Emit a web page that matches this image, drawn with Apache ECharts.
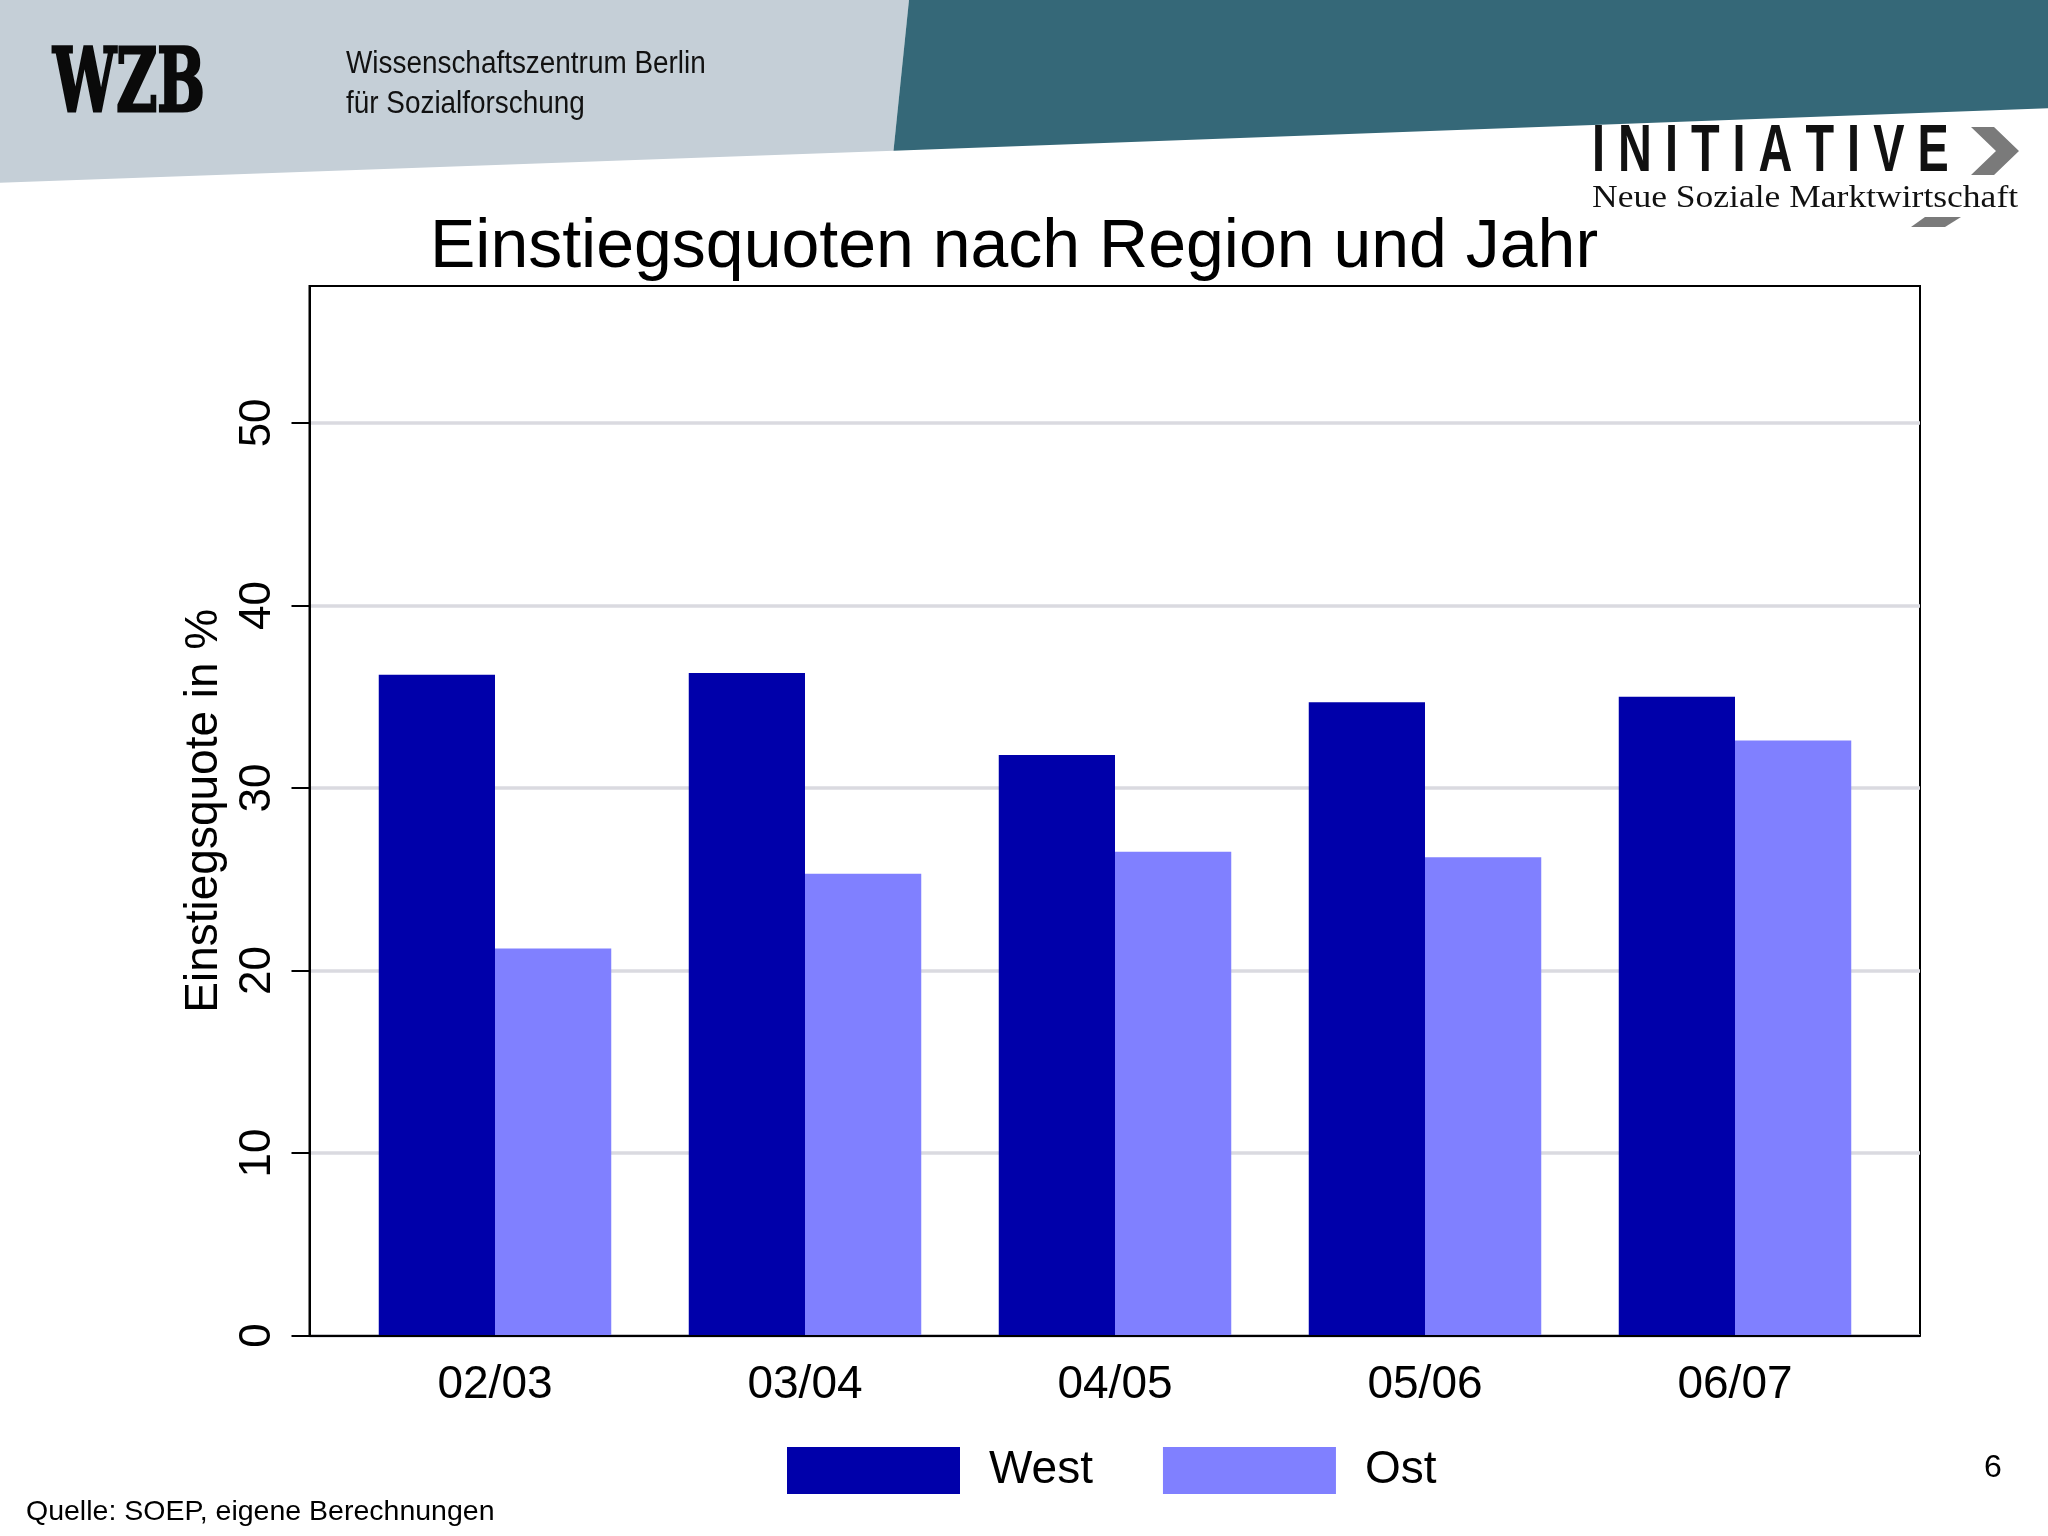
<!DOCTYPE html>
<html><head><meta charset="utf-8">
<script src="https://cdn.jsdelivr.net/npm/echarts@6/dist/echarts.min.js"></script>
<style>html,body{margin:0;padding:0;background:#fff}#c{width:2048px;height:1536px}</style>
</head><body><div id="c"></div>
<script>
// ---- data ----
const categories = ['02/03', '03/04', '04/05', '05/06', '06/07'];
const westValues = [36.2, 36.3, 31.8, 34.7, 35.0];
const ostValues  = [21.2, 25.3, 26.5, 26.2, 32.6];
const yTicks = [0, 10, 20, 30, 40, 50];
const seriesNames = ['West', 'Ost'];
const titleText = 'Einstiegsquoten nach Region und Jahr';
const yAxisTitle = 'Einstiegsquote in %';
const sourceText = 'Quelle: SOEP, eigene Berechnungen';
const pageNumber = '6';
const headerLine1 = 'Wissenschaftszentrum Berlin';
const headerLine2 = 'für Sozialforschung';
const logoLeft = 'WZB';
const logoRight = 'I N I T I A T I V E';
const logoRightSub = 'Neue Soziale Marktwirtschaft';

// ---- styling ----
const FONT = "'Liberation Sans', Arial, Helvetica, sans-serif";
const Y_MAX = 57.5;
const WEST_COLOR = '#0000aa';
const OST_COLOR = '#8080ff';

const chart = echarts.init(document.getElementById('c'), null, {renderer: 'canvas', width: 2048, height: 1536});

const option = {
  backgroundColor: '#ffffff',
  animation: false,
  textStyle: {fontFamily: FONT},
  title: {
    text: titleText, left: 1014, top: 214, textAlign: 'center', padding: 0,
    textStyle: {fontFamily: FONT, fontSize: 68, fontWeight: 'normal', color: '#000'}
  },
  legend: {
    data: seriesNames, left: 787, top: 1447, padding: 0,
    icon: 'rect', itemWidth: 173, itemHeight: 47, itemGap: 70,
    itemStyle: {borderWidth: 0},
    textStyle: {fontFamily: FONT, fontSize: 46, color: '#000', padding: [9, 0, 0, 24]}
  },
  grid: [
    {left: 340, width: 1550, top: 286, bottom: 200.5, containLabel: false, outerBoundsMode: 'none'},
    {left: 309.5, right: 128, top: 286, bottom: 200.5, containLabel: false, outerBoundsMode: 'none',
     show: true, borderColor: '#000', borderWidth: 2, backgroundColor: 'transparent'}
  ],
  xAxis: [
    {type: 'category', gridIndex: 0, data: categories, boundaryGap: true,
     axisLine: {show: false}, axisTick: {show: false}, splitLine: {show: false},
     axisLabel: {fontFamily: FONT, fontSize: 46, color: '#000', margin: 27}},
    {type: 'value', gridIndex: 1, min: 0, max: 1, z: 5,
     axisLine: {show: true, onZero: false, lineStyle: {color: '#000', width: 2}},
     axisTick: {show: false}, axisLabel: {show: false}, splitLine: {show: false}}
  ],
  yAxis: [
    {type: 'value', gridIndex: 0, min: 0, max: Y_MAX, show: false, splitLine: {show: false}},
    {type: 'value', gridIndex: 1, min: 0, max: Y_MAX, interval: 10,
     axisLine: {show: true, lineStyle: {color: '#000', width: 2}},
     axisTick: {show: true, length: 18, customValues: yTicks, lineStyle: {color: '#000', width: 2}},
     axisLabel: {show: true, rotate: 90, fontFamily: FONT, fontSize: 44, color: '#000', margin: 30,
                 customValues: yTicks},
     splitLine: {show: true, lineStyle: {color: '#dadae0', width: 3.5}},
     name: yAxisTitle, nameLocation: 'middle', nameGap: 77, nameRotate: 90,
     nameTextStyle: {fontFamily: FONT, fontSize: 46, color: '#000'}}
  ],
  series: [
    {name: seriesNames[0], type: 'bar', xAxisIndex: 0, yAxisIndex: 0, data: westValues,
     barGap: '0%', barCategoryGap: '25%', z: 2, itemStyle: {color: WEST_COLOR}},
    {name: seriesNames[1], type: 'bar', xAxisIndex: 0, yAxisIndex: 0, data: ostValues,
     barGap: '0%', barCategoryGap: '25%', z: 2, itemStyle: {color: OST_COLOR}}
  ],
  graphic: [
    {type: 'polygon', silent: true, z: -10, shape: {points: [[0,0],[909,0],[893.5,150.7],[0,182.7]]}, style: {fill: '#c5cfd7'}},
    {type: 'polygon', silent: true, z: -10, shape: {points: [[909,0],[2048,0],[2048,108.3],[893.5,150.7]]}, style: {fill: '#356878'}},
    {type: 'text', silent: true, x: 53, y: 88, scaleX: 0.64, scaleY: 1.0,
     style: {text: logoLeft, font: "bold 88px 'DejaVu Serif', serif", fill: '#0a0a0a', stroke: '#0a0a0a', lineWidth: 3,
             textAlign: 'left', textVerticalAlign: 'middle'}},
    {type: 'text', silent: true, x: 346, y: 64, scaleX: 0.9,
     style: {text: headerLine1, font: "31px " + FONT, fill: '#111', textAlign: 'left', textVerticalAlign: 'middle'}},
    {type: 'text', silent: true, x: 346, y: 104, scaleX: 0.9,
     style: {text: headerLine2, font: "31px " + FONT, fill: '#111', textAlign: 'left', textVerticalAlign: 'middle'}},
    {type: 'text', silent: true, x: 1592, y: 153, scaleX: 0.71,
     style: {text: logoRight, font: "bold 66px " + FONT, fill: '#111', textAlign: 'left', textVerticalAlign: 'middle'}},
    {type: 'polygon', silent: true, shape: {points: [[1971,127],[1994,127],[2019,151],[1994,175],[1971,175],[1996,151]]}, style: {fill: '#7a7a7a'}},
    {type: 'text', silent: true, x: 1592, y: 199, scaleX: 1.11,
     style: {text: logoRightSub, font: "32px 'Liberation Serif', 'Times New Roman', serif", fill: '#111', textAlign: 'left', textVerticalAlign: 'middle'}},
    {type: 'polygon', silent: true, shape: {points: [[1925,217],[1961,217],[1945,227],[1911,227]]}, style: {fill: '#7a7a7a'}},
    {type: 'text', silent: true, x: 26, y: 1512,
     style: {text: sourceText, font: "28.5px " + FONT, fill: '#000', textAlign: 'left', textVerticalAlign: 'middle'}},
    {type: 'text', silent: true, x: 1993, y: 1468,
     style: {text: pageNumber, font: "32px " + FONT, fill: '#000', textAlign: 'center', textVerticalAlign: 'middle'}}
  ]
};
chart.setOption(option);
</script>
</body></html>
